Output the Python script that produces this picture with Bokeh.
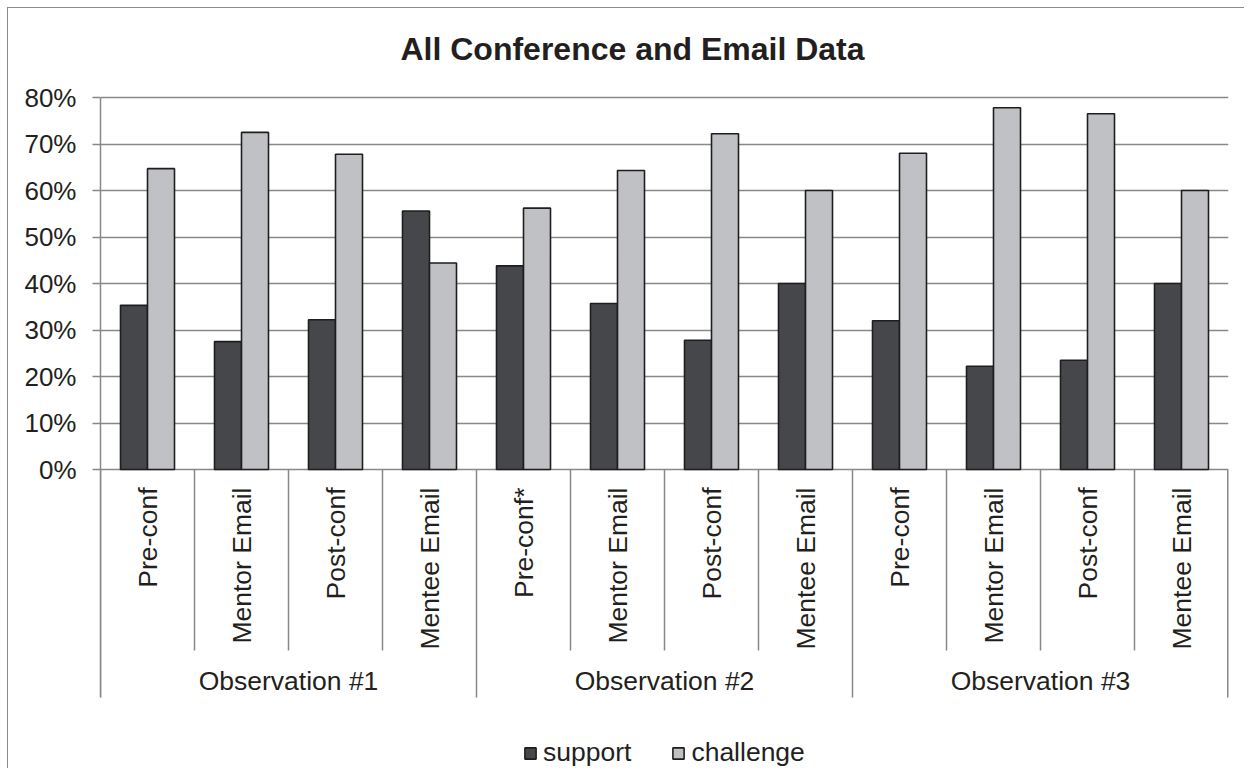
import numpy as np
from bokeh.plotting import figure
from bokeh.models import (ColumnDataSource, FactorRange, Range1d, FixedTicker,
                          PrintfTickFormatter, Legend, LegendItem)
from bokeh.transform import dodge
from bokeh.embed import file_html
from bokeh.resources import INLINE

# ---------------- data ----------------
groups = ["Observation #1", "Observation #2", "Observation #3"]
sub_categories = [
    ["Pre-conf", "Mentor Email", "Post-conf", "Mentee Email"],
    ["Pre-conf*", "Mentor Email", "Post-conf", "Mentee Email"],
    ["Pre-conf", "Mentor Email", "Post-conf", "Mentee Email"],
]
support = [35.3, 27.5, 32.2, 55.6, 43.8, 35.7, 27.8, 40.0, 32.0, 22.2, 23.5, 40.0]
challenge = [64.7, 72.5, 67.8, 44.4, 56.2, 64.3, 72.2, 60.0, 68.0, 77.8, 76.5, 60.0]
y_ticks = [0, 10, 20, 30, 40, 50, 60, 70, 80]
title_text = "All Conference and Email Data"
series_names = ["support", "challenge"]

# ---------------- layout constants (pixels) ----------------
FONT = "Liberation Sans"
TEXT_COLOR = "#231F20"
GRID_COLOR = "#888888"
SUPPORT_COLOR = "#46474A"
CHALLENGE_COLOR = "#C0C1C4"
BAR_LINE = "#1E1E1E"

W, H = 1237, 761
ML, MR = 92, 17
FRAME_W = W - ML - MR
N_CAT = sum(len(c) for c in sub_categories)
PX_PER_CAT = FRAME_W / N_CAT
ZERO_PX = 461                      # distance of the 0% line from canvas top
PX_PER_PCT = 372 / y_ticks[-1]     # pixels per percentage point
Y_END = ZERO_PX / PX_PER_PCT
Y_START = -(H - ZERO_PX) / PX_PER_PCT


def px_from_zero(px):
    """vertical offset in pixels from the 0% line (positive = up) -> data units"""
    return px / PX_PER_PCT


factors = [(g, c) for g, cats in zip(groups, sub_categories) for c in cats]

src = ColumnDataSource(dict(x=factors, support=support, challenge=challenge))

p = figure(
    x_range=FactorRange(*factors, factor_padding=0, group_padding=0, range_padding=0),
    y_range=Range1d(Y_START, Y_END),
    width=W, height=H,
    min_border_left=ML, min_border_right=MR, min_border_top=0, min_border_bottom=0,
    x_axis_location=None,
    output_backend="svg", toolbar_location=None,
)
p.outline_line_color = None
p.background_fill_color = "white"
p.border_fill_color = "white"
p.styles = {"border-left": "1px solid #8C8C8C", "border-top": "1px solid #8C8C8C",
            "margin-left": "7px", "margin-top": "7px"}

# y axis
ax = p.yaxis[0]
ax.ticker = FixedTicker(ticks=y_ticks)
ax.bounds = (px_from_zero(-228), y_ticks[-1])
ax.formatter = PrintfTickFormatter(format="%d%%")
ax.axis_line_color = GRID_COLOR
ax.axis_line_width = 1.5
ax.major_tick_line_color = GRID_COLOR
ax.major_tick_line_width = 1.5
ax.major_tick_out = 8
ax.major_tick_in = 0
ax.minor_tick_line_color = None
ax.major_label_text_font = FONT
ax.major_label_text_font_size = "26px"
ax.major_label_text_color = TEXT_COLOR
ax.major_label_standoff = 16

p.xgrid.grid_line_color = None
p.ygrid.grid_line_color = GRID_COLOR
p.ygrid.grid_line_width = 1.6

# bars
BAR_W = 27 / PX_PER_CAT
r_sup = p.vbar(x=dodge("x", -BAR_W / 2, range=p.x_range), top="support", bottom=0,
               width=BAR_W, source=src, fill_color=SUPPORT_COLOR,
               line_color=BAR_LINE, line_width=1.6)
r_cha = p.vbar(x=dodge("x", BAR_W / 2, range=p.x_range), top="challenge", bottom=0,
               width=BAR_W, source=src, fill_color=CHALLENGE_COLOR,
               line_color=BAR_LINE, line_width=1.6)

# category separators
sep_bottom = []
for cats in sub_categories:
    for i, _ in enumerate(cats):
        sep_bottom.append(px_from_zero(-228) if i == 0 else px_from_zero(-181))
sep_src = ColumnDataSource(dict(x=factors, y0=[0] * len(factors), y1=sep_bottom))
p.segment(x0=dodge("x", -0.5, range=p.x_range), x1=dodge("x", -0.5, range=p.x_range),
          y0="y0", y1="y1", source=sep_src, line_color=GRID_COLOR, line_width=1.5)
end_src = ColumnDataSource(dict(x=[factors[-1]], y0=[0], y1=[px_from_zero(-228)]))
p.segment(x0=dodge("x", 0.5, range=p.x_range), x1=dodge("x", 0.5, range=p.x_range),
          y0="y0", y1="y1", source=end_src, line_color=GRID_COLOR, line_width=3)

# category labels (rotated)
lab_src = ColumnDataSource(dict(x=factors, y=[px_from_zero(-18)] * len(factors),
                                text=[c for _, c in factors]))
p.text(x="x", y="y", text="text", source=lab_src, angle=np.pi / 2,
       text_align="right", text_baseline="middle",
       text_font_size="26.5px", text_color=TEXT_COLOR,
       text_font={"value": FONT})

# group labels
grp_src = ColumnDataSource(dict(x=groups, y=[px_from_zero(-211)] * len(groups), text=groups))
p.text(x="x", y="y", text="text", source=grp_src, text_align="center",
       text_baseline="middle", text_font_size="26.5px", text_color=TEXT_COLOR,
       text_font={"value": FONT})

# title
title_src = ColumnDataSource(dict(x=[532 / PX_PER_CAT], y=[px_from_zero(421)], text=[title_text]))
p.text(x="x", y="y", text="text", source=title_src, text_align="center",
       text_baseline="middle", text_font_size="32px", text_font_style="bold",
       text_color=TEXT_COLOR, text_font={"value": FONT})

# legend
legend = Legend(items=[LegendItem(label=series_names[0], renderers=[r_sup]),
                       LegendItem(label=series_names[1], renderers=[r_cha])],
                orientation="horizontal", location=(423, 1),
                label_text_font=FONT, label_text_font_size="26.5px",
                label_text_color=TEXT_COLOR, glyph_width=14, glyph_height=14,
                label_standoff=6, spacing=40, padding=0, margin=0,
                border_line_color=None, background_fill_alpha=0)
p.add_layout(legend)

open("out.html", "w").write(file_html(p, INLINE))
